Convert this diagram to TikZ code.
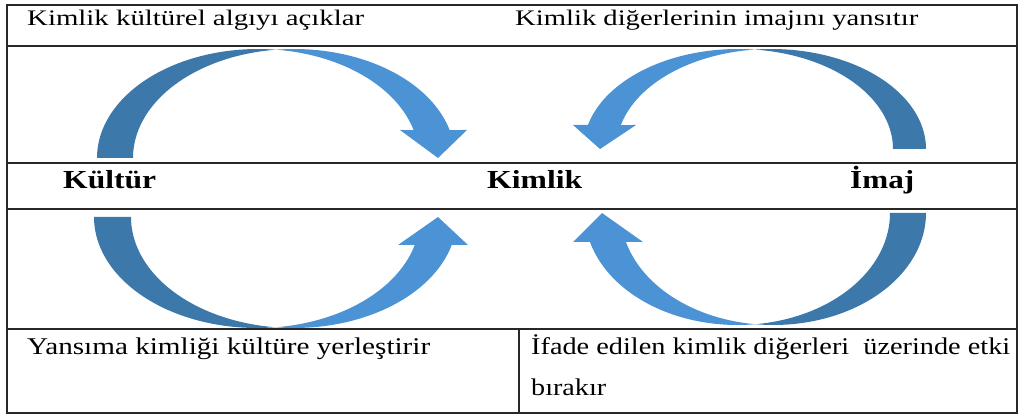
\documentclass[tikz,border=0pt]{standalone}
\usepackage{fontspec}
\setmainfont{Liberation Serif}
\usepackage{graphicx}

\definecolor{ribbondark}{RGB}{60,120,170}
\definecolor{ribbonlight}{RGB}{75,147,213}
\definecolor{rule}{RGB}{40,40,40}

% Twisted ribbon arrow (two equal half-ellipses offset by 2h).
% #1 scope options, #2 h, #3 a, #4 b, #5 neck height,
% #6 outer wing x, #7 inner wing x, #8 tip x, #9 tip y
\newcommand\ribbonarrow[9]{%
  \begin{scope}[#1]
    \pgfmathsetmacro\rbTc{acos(#2/#3)}
    \pgfmathsetmacro\rbTcb{180-\rbTc}
    \pgfmathsetmacro\rbTn{asin(#5/#4)}
    % back face, from the tail to the twist
    \fill[ribbondark]
      plot[domain=180:\rbTc, samples=60] ({-#2+#3*cos(\x)}, {#4*sin(\x)})
      -- plot[domain=\rbTcb:180, samples=60] ({#2+#3*cos(\x)}, {#4*sin(\x)})
      -- cycle;
    % front face, from the twist to the head
    \fill[ribbonlight]
      plot[domain=\rbTcb:\rbTn, samples=60] ({#2+#3*cos(\x)}, {#4*sin(\x)})
      -- (#6,#5) -- (#8,#9) -- (#7,#5)
      -- plot[domain=\rbTn:\rbTc, samples=60] ({-#2+#3*cos(\x)}, {#4*sin(\x)})
      -- cycle;
  \end{scope}}

\tikzset{
  frame/.style={draw=rule, line width=1.6pt},
  toptext/.style={anchor=base west, inner sep=0pt, font=\fontsize{22.2}{26}\selectfont},
  keytext/.style={anchor=base west, inner sep=0pt, font=\fontsize{26}{30}\selectfont\bfseries},
  bottext/.style={anchor=base west, inner sep=0pt, font=\fontsize{24}{28}\selectfont},
}

\begin{document}
\begin{tikzpicture}[x=1pt, y=-1pt]
  \useasboundingbox (0,0) rectangle (1021,417);
  \fill[white] (0,0) rectangle (1021,417);

  % table rules
  \draw[frame] (7,5) rectangle (1017,413);
  \draw[frame] (7,46) -- (1017,46);
  \draw[frame] (7,163) -- (1017,163);
  \draw[frame] (7,209) -- (1017,209);
  \draw[frame] (7,329) -- (1017,329);
  \draw[frame] (519,329) -- (519,413);

  % curved arrows
  \ribbonarrow{shift={(276,158)}, yscale=-1}{18}{161}{109}{28}{191}{124}{162}{0}
  \ribbonarrow{shift={(754.7,149)}, xscale=-1, yscale=-1}{16.5}{154.8}{100}{24}{181.7}{118.7}{154.7}{0}
  \ribbonarrow{shift={(275.5,217)}}{18.5}{163}{111}{28}{192.5}{122.5}{162.5}{0}
  \ribbonarrow{shift={(755.4,213)}, xscale=-1}{18}{152.6}{112}{29}{182.4}{112.4}{153.4}{0}

  % texts
  \node[toptext] (algi) at (27,26) {\resizebox{337pt}{\height}{Kimlik kültürel algıyı açıklar}};
  \node[toptext] (imaji) at (515,26) {\resizebox{403pt}{\height}{Kimlik diğerlerinin imajını yansıtır}};

  \node[keytext] (kultur) at (63,189) {\resizebox{93pt}{\height}{Kültür}};
  \node[keytext] (kimlik) at (487,188.5) {\resizebox{95pt}{\height}{Kimlik}};
  \node[keytext] (imaj) at (850,188.5) {\resizebox{64pt}{\height}{İmaj}};

  \node[bottext] (yansima) at (27,354) {\resizebox{403pt}{\height}{Yansıma kimliği kültüre yerleştirir}};
  \node[bottext] (ifade) at (531,354) {\resizebox{479pt}{\height}{İfade edilen kimlik diğerleri~ üzerinde etki}};
  \node[bottext] (birakir) at (531,395) {\resizebox{75pt}{\height}{bırakır}};
\end{tikzpicture}
\end{document}
